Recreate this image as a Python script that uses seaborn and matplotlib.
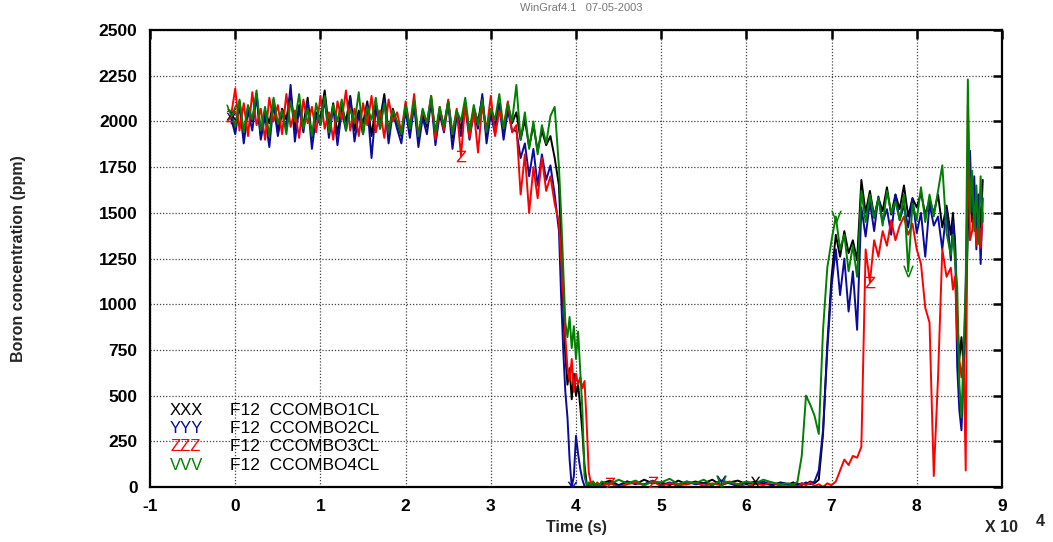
import numpy as np
import pandas as pd
import matplotlib
matplotlib.use("Agg")
import matplotlib.pyplot as plt
import seaborn as sns

# sample clock, in units of 1e4 s
t_plateau = np.round(np.arange(-0.05, 3.26, 0.05), 3)
t_drop = np.round(np.concatenate([np.arange(3.30, 3.76, 0.05), np.arange(3.80, 4.28, 0.025)]), 3)
t_flat = np.round(np.arange(4.30, 6.45, 0.1), 3)
t_recov = np.round(np.concatenate([np.arange(6.50, 8.36, 0.05), np.arange(8.40, 8.78, 0.025)]), 3)

# boron concentration (ppm)
xxx = [
    2040, 1960, 2110, 1930, 2080, 2000, 2150, 1920, 2060, 1990, 2120, 1940, 2070, 2010, 2160, 1950,
    2090, 1980, 2130, 1910, 2050, 2020, 2170, 1960, 2100, 1930, 2080, 2000, 2140, 1950, 2060, 1990,
    2110, 1920, 2090, 2010, 2150, 1940, 2070,
    1990, 1920, 2080, 1950, 2100, 1900, 2040, 1970, 2120, 1930, 2060, 1980, 2110, 1910, 2050, 1960,
    2090, 1940, 2070, 2000, 2130, 1920, 2060, 1970, 2100, 1950, 2080, 1990,
    2050, 1900, 2010, 1860, 1980, 1840, 1950, 1870, 1920, 1800,
    1650, 1350, 980, 720, 560, 650, 480, 620, 500, 560, 440, 300, 120, 20, 10, 25, 15, 5, 20, 10,
    20, 35, 10, 30, 15, 40, 20, 25, 10, 35, 15, 30, 20, 40, 10, 25, 35, 15, 30, 20, 10, 25,
    15, 25, 10, 20, 15, 30, 20, 40, 290, 780, 1150, 1380, 1260, 1400, 1280, 1350, 1240, 1680,
    1500, 1620, 1480, 1580, 1510, 1640, 1490, 1600, 1520, 1650, 1480, 1580, 1530, 1610, 1490, 1570,
    1500, 1600, 1420, 1540,
    1380, 1500, 1340, 930, 700, 820, 660, 900, 1400, 1700, 1450, 1650, 1380, 1600, 1420, 1680,
]
yyy = [
    2020, 1930, 2090, 1880, 2060, 1950, 2140, 1900, 2030, 1860, 2100, 1920, 2050, 1960, 2200, 1890,
    2070, 1940, 2110, 1850, 2030, 1980, 2120, 1910, 2080, 1870, 2060, 1950, 2130, 1890, 2040, 1930,
    2090, 1800, 2070, 1960, 2120, 1880, 2050,
    1960, 1880, 2060, 1910, 2090, 1860, 2020, 1930, 2110, 1870, 2040, 1940, 2100, 1850, 2030, 1920,
    2080, 1900, 2050, 1960, 2150, 1880, 2040, 1930, 2090, 1900, 2060, 1950,
    1950, 1800, 1880, 1700, 1850, 1650, 1820, 1680, 1760, 1600,
    1400, 1050, 750, 520, 380, 150, 0, 60, 280, 180, 100, 40, 5, 0, 15, 5, 20, 10, 0, 15,
    10, 25, 5, 30, 20, 15, 35, 10, 25, 5, 30, 15, 20, 10, 35, 20, 5, 25, 15, 30, 10, 20,
    15, 5, 20, 10, 25, 15, 30, 90, 310, 750, 1100, 1300, 1050, 1250, 960, 1180, 860, 1530,
    1370, 1560, 1400, 1590, 1450, 1520, 1380, 1600, 1460, 1540, 1420, 1580, 1390, 1500, 1260, 1550,
    1430, 1480, 1300, 1520,
    1240, 1450, 1330, 660, 420, 310, 600, 1100, 1750, 1840, 1500, 1700, 1300, 1600, 1220, 1580,
]
zzz = [
    2030, 2180, 1950, 2100, 1920, 2160, 1980, 2070, 1900, 2130, 2000, 2090, 1930, 2150, 1970, 2060,
    1910, 2120, 1990, 2080, 1940, 2140, 1960, 2050, 1900, 2110, 2010, 2170, 1950, 2070, 1920, 2100,
    1980, 2140, 1940, 2060, 1910, 2120, 2000,
    2050, 1940, 2110, 1970, 2150, 1920, 2060, 1990, 2140, 1900, 2080, 1950, 2120, 1930, 2070, 1810,
    2100, 1910, 2060, 1830, 2090, 1950, 2140, 1920, 2060, 1970, 2110, 1940,
    1980, 1600, 1820, 1500, 1750, 1580, 1800, 1620, 1700, 1550,
    1450, 1250, 1050, 820, 650, 580, 700, 520, 620, 560, 600, 540, 580, 350, 80, 20, 30, 0, 25, 10,
    5, 20, 0, 15, 25, 10, 30, 5, 20, 10, 15, 25, 5, 20, 10, 30, 15, 0, 20, 10, 25, 5,
    5, 15, 0, 20, 10, 25, 5, 15, 0, 20, 10, 30, 90, 150, 120, 170, 160, 220, 1300, 1120,
    1350, 1260, 1400, 1320, 1460, 1350, 1430, 1480, 1380, 1440, 1300, 1220, 980, 900, 60, 600,
    1300, 1150,
    1200, 1080, 1150, 820, 700, 600, 720, 90, 2090, 1350, 1400, 1510, 1320, 1480, 1310, 1500,
]
vvv = [
    2060, 1970, 2120, 1940, 2090, 2010, 2170, 1950, 2080, 1920, 2130, 1990, 2060, 1930, 2110, 2000,
    2150, 1960, 2070, 1920, 2100, 1980, 2140, 1940, 2090, 2000, 2120, 1950, 2070, 1990, 2160, 1930,
    2080, 2010, 2130, 1960, 2100, 1940, 2060,
    2000, 1930, 2090, 1960, 2120, 1920, 2070, 1990, 2140, 1940, 2080, 1970, 2110, 1930, 2060, 2000,
    2130, 1950, 2090, 1980, 2120, 1940, 2070, 2010, 2150, 1960, 2100, 2000,
    2200, 1900, 2050, 1850, 2000, 1820, 1980, 1880, 2030, 2080,
    1750, 1500, 1200, 900, 820, 930, 760, 880, 700, 850, 640, 420, 60, 10, 25, 5, 30, 15, 20, 5,
    30, 15, 40, 20, 35, 10, 30, 25, 45, 15, 30, 20, 40, 10, 35, 25, 15, 30, 20, 40, 25, 15,
    20, 10, 30, 170, 500, 450, 390, 290, 860, 1200, 1350, 1480, 1300, 1380, 1180, 1320, 1150, 1620,
    1450, 1600, 1470, 1580, 1430, 1620, 1500, 1560, 1460, 1600, 1180, 1550, 1460, 1640, 1450, 1600,
    1480, 1620, 1760, 1390,
    1270, 1380, 1240, 1100, 565, 380, 750, 1110, 2230, 1500, 1730, 1400, 1650, 1330, 1700, 1450,
]

series_names = ["XXX", "YYY", "ZZZ", "VVV"]
legend_labels = ["F12  CCOMBO1CL", "F12  CCOMBO2CL", "F12  CCOMBO3CL", "F12  CCOMBO4CL"]
series_colors = ["#000000", "#0a0aa0", "#ff0000", "#008000"]
symbol_letters = ["X", "Y", "Z", "V"]
symbol_times = [
    [-0.05, 6.1],
    [-0.05, 3.95, 5.7],
    [-0.05, 2.65, 4.4, 4.9, 7.45],
    [-0.05, 5.7, 7.05, 7.9],
]

x_ticks = list(range(-1, 10))
y_ticks = list(range(0, 2501, 250))

time = np.concatenate([t_plateau, t_drop, t_flat, t_recov])
frames = []
for name, vals in zip(series_names, [xxx, yyy, zzz, vvv]):
    assert len(vals) == len(time), (name, len(vals), len(time))
    frames.append(pd.DataFrame({"time": time, "boron": vals, "series": name}))
df = pd.concat(frames, ignore_index=True)

sns.set_theme(style="white", rc={
    "axes.linewidth": 1.6,
    "axes.edgecolor": "black",
    "axes.unicode_minus": False,
    "xtick.direction": "in",
    "ytick.direction": "in",
    "xtick.major.size": 6.5,
    "ytick.major.size": 6.5,
    "xtick.major.width": 1.8,
    "ytick.major.width": 1.8,
    "xtick.top": True,
    "ytick.right": True,
})
plt.rcParams["font.family"] = ["Liberation Sans", "DejaVu Sans"]

fig = plt.figure(figsize=(10.53, 5.42), dpi=100)
ax = fig.add_axes([0.1425, 0.1015, 0.809, 0.843])

sns.lineplot(
    data=df, x="time", y="boron", hue="series", hue_order=series_names,
    palette=series_colors, estimator=None, sort=False, linewidth=1.4,
    legend=False, ax=ax,
)

for name, color, letter, times in zip(series_names, series_colors, symbol_letters, symbol_times):
    sub = df[(df["series"] == name) & df["time"].apply(lambda v: any(np.isclose(v, times)))]
    sns.scatterplot(
        data=sub, x="time", y="boron", color=color, marker=rf"$\mathsf{{{letter}}}$",
        s=70, linewidth=0, ax=ax, zorder=5,
    )

ax.set_xlim(-1, 9)
ax.set_ylim(0, 2500)
ax.set_xticks(x_ticks)
ax.set_yticks(y_ticks)
ax.tick_params(labelsize=12.5, pad=9, colors="black")
for lab in ax.get_xticklabels() + ax.get_yticklabels():
    lab.set_fontweight("bold")
ax.grid(True, color="#444444", linestyle=(0, (1, 1.5)), linewidth=0.9)
ax.set_axisbelow(True)

ax.set_xlabel("Time (s)", fontsize=11.5, fontweight="bold", labelpad=4)
ax.set_ylabel("Boron concentration (ppm)", fontsize=11.5, fontweight="bold", labelpad=52)

fig.text(0.951, 0.026, "X 10", fontsize=11.5, fontweight="bold", ha="center", va="center")
fig.text(0.988, 0.038, "4", fontsize=11.5, fontweight="bold", ha="center", va="center")
fig.text(0.552, 0.985, "WinGraf4.1   07-05-2003", fontsize=8, color="#777777", ha="center", va="center")

legend_y = [0.168, 0.129, 0.088, 0.046]
for sym, lab, color, yy in zip(series_names, legend_labels, series_colors, legend_y):
    ax.text(0.0235, yy, sym, transform=ax.transAxes, color=color, fontsize=12, va="center")
    ax.text(0.094, yy, lab, transform=ax.transAxes, color="black", fontsize=12.5, va="center")

fig.savefig("out.png", dpi=100)
